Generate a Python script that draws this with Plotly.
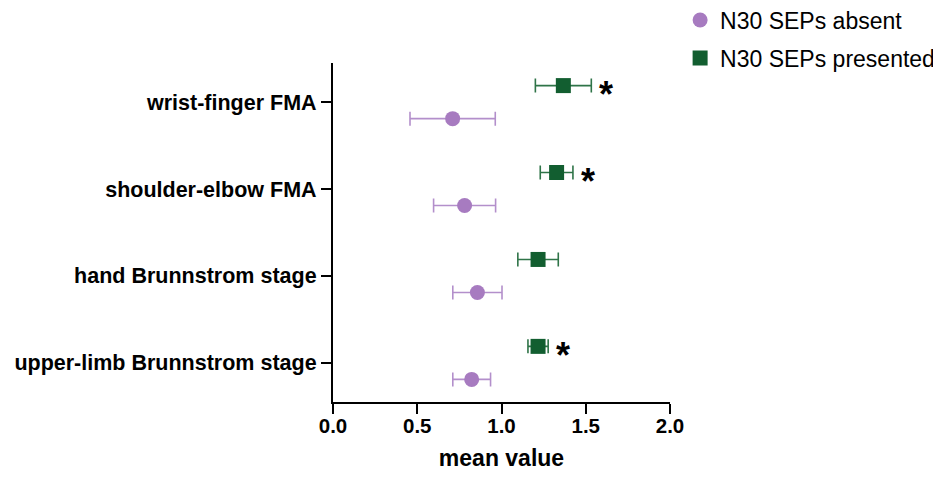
import plotly.graph_objects as go

categories = ["upper-limb Brunnstrom stage", "hand Brunnstrom stage",
              "shoulder-elbow FMA", "wrist-finger FMA"]
absent_mean = [0.823, 0.857, 0.781, 0.710]
absent_err = [0.112, 0.146, 0.184, 0.253]
present_mean = [1.217, 1.217, 1.327, 1.367]
present_err = [0.060, 0.120, 0.097, 0.166]
significant = [True, False, True, True]
x_ticks = [0.0, 0.5, 1.0, 1.5, 2.0]

FONT = "Liberation Sans, Arial, Helvetica, sans-serif"
PURPLE = "#A77BC0"
PURPLE_ERR = "#B38FCB"
GREEN = "#125E30"
GREEN_ERR = "#2F7448"
OFF = 0.19

idx = list(range(len(categories)))

fig = go.Figure()
fig.add_trace(go.Scatter(
    x=absent_mean, y=[i - OFF for i in idx], mode="markers",
    name="N30 SEPs absent", legendgroup="a",
    marker=dict(symbol="circle", size=15, color=PURPLE),
    error_x=dict(type="data", array=absent_err, color=PURPLE_ERR,
                 thickness=1.6, width=7),
))
fig.add_trace(go.Scatter(
    x=present_mean, y=[i + OFF for i in idx], mode="markers",
    name="N30 SEPs presented", legendgroup="b",
    marker=dict(symbol="square", size=15, color=GREEN),
    error_x=dict(type="data", array=present_err, color=GREEN_ERR,
                 thickness=1.6, width=7),
))

for i, s in enumerate(significant):
    if s:
        fig.add_annotation(
            x=present_mean[i] + present_err[i], y=i + OFF,
            xref="x", yref="y", text="<b>*</b>", showarrow=False,
            xanchor="left", yanchor="middle", xshift=6, yshift=-9,
            font=dict(family=FONT, size=36, color="black"),
        )

fig.update_layout(
    width=933, height=471,
    margin=dict(l=325, r=271, t=55, b=77, autoexpand=False),
    plot_bgcolor="white", paper_bgcolor="white",
    font=dict(family=FONT, color="black"),
    showlegend=True,
    legend=dict(
        x=1.03, y=1.19, xanchor="left", yanchor="top",
        font=dict(family=FONT, size=23, color="black"),
        tracegroupgap=5, bgcolor="rgba(0,0,0,0)",
    ),
    xaxis=dict(
        range=[0, 2], tickvals=x_ticks,
        ticktext=[f"<b>{v:.1f}</b>" for v in x_ticks],
        showline=True, linecolor="black", linewidth=2.2,
        ticks="outside", ticklen=10, tickwidth=2.2, tickcolor="black",
        showgrid=False, zeroline=False, ticklabelstandoff=-6,
        tickfont=dict(family=FONT, size=20.5, color="black"),
        title=dict(text="<b>mean value</b>", standoff=14,
                   font=dict(family=FONT, size=23, color="black")),
    ),
    yaxis=dict(
        range=[-0.45, 3.45], tickvals=idx,
        ticktext=[f"<b>{c}</b>" for c in categories],
        showline=True, linecolor="black", linewidth=2.2,
        ticks="outside", ticklen=10, tickwidth=2.2, tickcolor="black",
        showgrid=False, zeroline=False,
        tickfont=dict(family=FONT, size=21.5, color="black"),
    ),
)
fig.write_html("out.html")
